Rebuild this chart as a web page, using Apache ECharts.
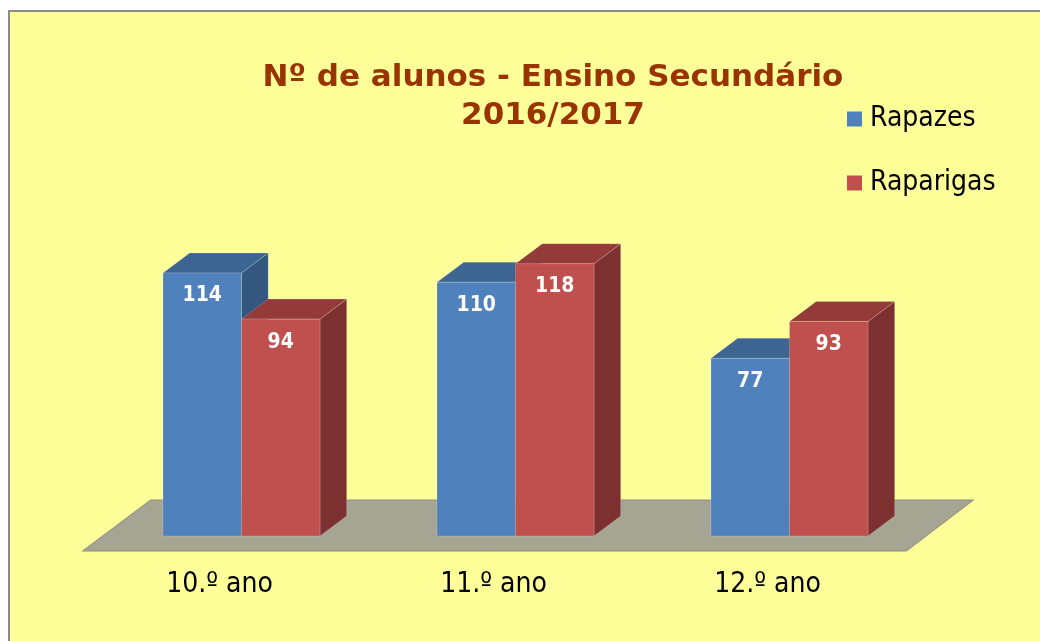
<!DOCTYPE html>
<html>
<head>
<meta charset="utf-8">
<script src="https://cdn.jsdelivr.net/npm/echarts@6/dist/echarts.min.js"></script>
<style>
  html, body { margin: 0; padding: 0; background: #fff; }
  #chart { width: 1040px; height: 641px; }
</style>
</head>
<body>
<div id="chart"></div>
<script>
// dados
var categories = ['10.º ano', '11.º ano', '12.º ano']
var rapazes = [114, 110, 77]
var raparigas = [94, 118, 93]

var FONT = '"DejaVu Sans Condensed", "DejaVu Sans", sans-serif'
var FONT_TITLE = '"DejaVu Sans", sans-serif'

var blue = { front: '#4F81BD', top: '#3D6591', side: '#34577F' }
var red = { front: '#C0504D', top: '#943B39', side: '#7D3030' }

// caixa 3D: side = -1 (esquerda do centro) ou 1 (direita)
function boxItem (side, c) {
  return function (params, api) {
    var cat = api.value(0)
    var val = api.value(1)
    var top = api.coord([cat, val])
    var base = api.coord([cat, 0])
    var band = api.size([1, 0])[0]
    var w = band * 0.2865
    var dx = w * 0.34
    var dy = w * 0.255
    var x0 = side < 0 ? top[0] - w : top[0]
    var x1 = x0 + w
    var y0 = top[1]
    var y1 = base[1]
    var edge = 'rgba(255,255,255,0.18)'
    return {
      type: 'group',
      children: [
        { type: 'polygon', shape: { points: [[x1, y0], [x1 + dx, y0 - dy], [x1 + dx, y1 - dy], [x1, y1]] }, style: { fill: c.side, stroke: edge, lineWidth: 1 } },
        { type: 'polygon', shape: { points: [[x0, y0], [x0 + dx, y0 - dy], [x1 + dx, y0 - dy], [x1, y0]] }, style: { fill: c.top, stroke: edge, lineWidth: 1 } },
        { type: 'rect', shape: { x: x0, y: y0, width: w, height: y1 - y0 }, style: { fill: c.front, stroke: edge, lineWidth: 1 } },
        { type: 'text', style: { text: String(val), x: (x0 + x1) / 2, y: y0 + 23, align: 'center', verticalAlign: 'middle', fill: '#fff', font: 'bold 21px ' + FONT } }
      ]
    }
  }
}

// chão
function floorItem (params, api) {
  var cs = params.coordSys
  var by = cs.y + cs.height
  return {
    type: 'polygon',
    shape: { points: [[cs.x - 22, by + 15], [cs.x + 46, by - 36], [cs.x + cs.width + 47, by - 36], [cs.x + cs.width - 20, by + 15]] },
    style: { fill: '#A6A492', stroke: '#8E8C80', lineWidth: 1 }
  }
}

var chart = echarts.init(document.getElementById('chart'))
chart.setOption({
  animation: false,
  backgroundColor: '#fff',
  graphic: [{
    type: 'rect',
    z: -10,
    shape: { x: 9, y: 11, width: 1100, height: 700 },
    style: { fill: '#FFFF99', stroke: '#8A8A8A', lineWidth: 2 }
  }],
  title: {
    text: 'Nº de alunos - Ensino Secundário\n2016/2017',
    left: 548,
    top: 54,
    textAlign: 'center',
    textStyle: {
      color: '#993300',
      fontFamily: FONT_TITLE,
      fontWeight: 'bold',
      fontSize: 31,
      lineHeight: 38
    }
  },
  legend: {
    data: ['Rapazes', 'Raparigas'],
    orient: 'vertical',
    left: 842,
    top: 100,
    icon: 'rect',
    itemWidth: 15,
    itemHeight: 15,
    itemGap: 36,
    textStyle: { fontSize: 28, fontFamily: FONT, color: '#000', padding: [0, 0, 0, 3] }
  },
  grid: { left: 104.5, right: 113.5, top: 213, bottom: 105 },
  xAxis: {
    type: 'category',
    data: categories,
    axisLine: { show: false },
    axisTick: { show: false },
    axisLabel: {
      margin: 35,
      fontSize: 28,
      fontFamily: FONT,
      color: '#000',
      padding: [0, 44, 0, 0]
    }
  },
  yAxis: {
    type: 'value',
    min: 0,
    max: 140,
    show: false
  },
  series: [
    {
      name: 'chao',
      type: 'custom',
      z: 1,
      silent: true,
      renderItem: floorItem,
      data: [[0, 0]]
    },
    {
      name: 'Rapazes',
      type: 'custom',
      z: 2,
      itemStyle: { color: blue.front },
      renderItem: boxItem(-1, blue),
      encode: { x: 0, y: 1 },
      data: rapazes.map(function (v, i) { return [i, v] })
    },
    {
      name: 'Raparigas',
      type: 'custom',
      z: 3,
      itemStyle: { color: red.front },
      renderItem: boxItem(1, red),
      encode: { x: 0, y: 1 },
      data: raparigas.map(function (v, i) { return [i, v] })
    }
  ]
})
</script>
</body>
</html>
